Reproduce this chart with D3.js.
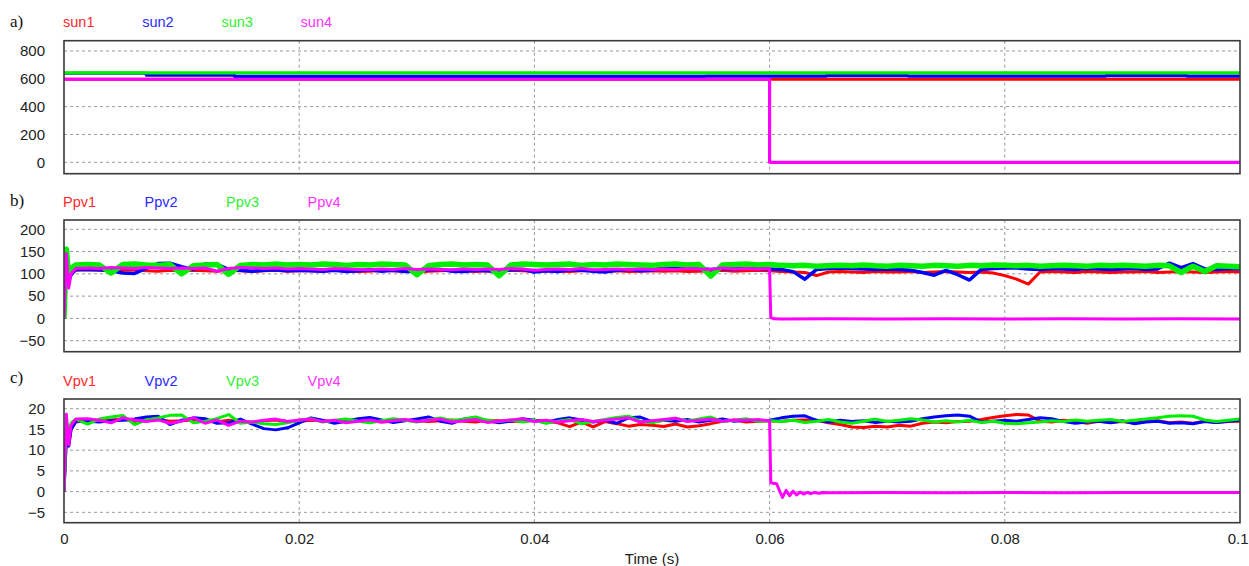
<!DOCTYPE html>
<html>
<head>
<meta charset="utf-8">
<script src="https://cdn.jsdelivr.net/npm/d3@7"></script>
<style>
  html, body { margin: 0; padding: 0; background: #fff; }
  svg { display: block; font-family: "Liberation Sans", Arial, sans-serif; }
</style>
</head>
<body>
<svg id="chart" width="1249" height="566"></svg>
<script>
// ---------------- DATA ----------------
const xTicks = [0, 0.02, 0.04, 0.06, 0.08, 0.1];
const xTickLabels = ["0", "0.02", "0.04", "0.06", "0.08", "0.1"];
const xTitle = "Time (s)";

const panelLabels = ["a)", "b)", "c)"];
const legendA = ["sun1", "sun2", "sun3", "sun4"];
const legendB = ["Ppv1", "Ppv2", "Ppv3", "Ppv4"];
const legendC = ["Vpv1", "Vpv2", "Vpv3", "Vpv4"];

const yTicksA = [0, 200, 400, 600, 800];
const yTicksB = [-50, 0, 50, 100, 150, 200];
const yTicksC = [-5, 0, 5, 10, 15, 20];

// Panel a: irradiance (step data)
const tSun = [0, 0.007, 0.0145, 0.0545, 0.06, 0.0648, 0.0718, 0.0886, 0.0955, 0.1];
const sun1 = [597, 597, 597, 597, 597, 597, 597, 597, 597, 597];
const sun2 = [640, 627, 618, 619, 619, 623, 620, 623, 619, 619];
const sun3 = [643, 643, 643, 643, 643, 643, 643, 643, 643, 643];
const sun4 = [597, 597, 597, 597, 0, 0, 0, 0, 0, 0];

// Shared sample times for panels b and c
const tMain = [0, 0.0002, 0.0004, 0.0006, 0.001,
  0.002, 0.003, 0.004, 0.005, 0.006, 0.007, 0.008, 0.009, 0.010,
  0.011, 0.012, 0.013, 0.014, 0.015, 0.016, 0.017, 0.018, 0.019, 0.020,
  0.021, 0.022, 0.023, 0.024, 0.025, 0.026, 0.027, 0.028, 0.029, 0.030,
  0.031, 0.032, 0.033, 0.034, 0.035, 0.036, 0.037, 0.038, 0.039, 0.040,
  0.041, 0.042, 0.043, 0.044, 0.045, 0.046, 0.047, 0.048, 0.049, 0.050,
  0.051, 0.052, 0.053, 0.054, 0.055, 0.056, 0.057, 0.058, 0.059, 0.060,
  0.061, 0.062, 0.063, 0.064, 0.065, 0.066, 0.067, 0.068, 0.069, 0.070,
  0.071, 0.072, 0.073, 0.074, 0.075, 0.076, 0.077, 0.078, 0.079, 0.080,
  0.081, 0.082, 0.083, 0.084, 0.085, 0.086, 0.087, 0.088, 0.089, 0.090,
  0.091, 0.092, 0.093, 0.094, 0.095, 0.096, 0.097, 0.098, 0.099, 0.100];

// Panel b: PV power
const ppv1 = [0, 135, 80, 100, 108,
  109, 108, 107, 108, 109, 107, 106, 108, 107,
  108, 107, 106, 108, 107, 105, 107, 108, 106, 107,
  107, 106, 108, 107, 105, 106, 108, 107, 106, 104,
  106, 107, 108, 107, 105, 107, 106, 108, 107, 105,
  107, 106, 105, 107, 108, 106, 107, 105, 106, 107,
  106, 107, 105, 106, 107, 108, 106, 107, 108, 107,
  105, 104, 103, 96, 104, 105, 104, 103, 105, 104,
  104, 105, 103, 104, 105, 104, 103, 104, 102, 96,
  88, 77, 104, 105, 104, 103, 105, 104, 103, 104,
  104, 105, 103, 104, 105, 104, 103, 104, 105, 104];
const ppv2 = [0, 130, 85, 98, 110,
  110, 109, 107, 102, 101, 112, 123, 124, 116,
  110, 122, 121, 110, 108, 106, 108, 109, 107, 108,
  107, 106, 108, 105, 107, 109, 106, 108, 105, 106,
  109, 110, 106, 105, 108, 107, 105, 109, 110, 104,
  107, 105, 109, 108, 106, 104, 108, 110, 107, 108,
  114, 113, 116, 112, 110, 112, 111, 113, 112, 111,
  110, 105, 88, 110, 112, 113, 112, 111, 110, 111,
  110, 108, 103, 97, 108, 98, 86, 110, 112, 113,
  113, 111, 110, 112, 111, 110, 112, 111, 110, 111,
  112, 110, 111, 124, 114, 123, 111, 110, 112, 111];
const ppv3 = [0, 155, 95, 112, 120,
  121, 120, 102, 121, 122, 120, 119, 121, 100,
  118, 120, 121, 99, 119, 121, 120, 122, 120, 121,
  120, 122, 121, 119, 121, 120, 122, 121, 120, 98,
  118, 121, 122, 120, 121, 120, 96, 120, 122, 121,
  120, 121, 122, 119, 121, 120, 122, 121, 120, 119,
  121, 122, 120, 121, 95, 120, 121, 122, 120, 121,
  119, 118, 119, 117, 118, 119, 118, 120, 118, 117,
  119, 118, 117, 119, 118, 117, 119, 118, 120, 119,
  118, 119, 117, 118, 119, 118, 117, 119, 118, 119,
  118, 117, 119, 118, 103, 117, 105, 118, 117, 116];
const ppv4Pre = [0, 145, 68, 100, 112,
  113, 112, 114, 113, 112, 114, 113, 112, 113,
  112, 113, 106, 112, 114, 113, 112, 113, 111, 112,
  111, 110, 112, 111, 110, 109, 111, 110, 112, 110,
  111, 110, 109, 111, 110, 111, 110, 112, 111, 108,
  110, 111, 110, 112, 109, 110, 111, 110, 111, 110,
  111, 110, 112, 111, 110, 113, 111, 112, 111, 112];
const tPpv4Post = [0.0601, 0.0604, 0.061, 0.065, 0.07, 0.075, 0.08, 0.085, 0.09, 0.095, 0.1];
const ppv4Post = [2, -1, -1.5, -1, -1.5, -1, -1.5, -1, -1.5, -1, -1.5];

// Panel c: PV voltage
const vpv1 = [0, 14, 11, 15, 16.8,
  17.2, 17.0, 17.3, 17.5, 16.9, 17.2, 17.4, 17.0, 17.1,
  17.3, 17.0, 16.8, 17.2, 17.0, 16.7, 17.1, 17.3, 16.9, 17.0,
  17.2, 17.1, 16.9, 17.0, 17.3, 17.1, 16.8, 17.0, 17.2, 17.1,
  16.9, 17.1, 17.3, 17.0, 16.8, 17.2, 17.1, 16.9, 17.0, 17.2,
  17.0, 16.6, 15.7, 16.8, 15.6, 16.9, 16.4, 15.8, 16.2, 16.0,
  15.7, 16.3, 15.6, 15.9, 16.4, 17.0, 17.3, 16.8, 17.0, 17.1,
  17.0, 17.2, 17.3, 17.2, 16.6, 16.2, 15.6, 15.5, 15.8, 15.6,
  16.0, 15.8, 16.5, 16.8, 16.6, 16.9, 17.0, 17.4, 17.9, 18.3,
  18.6, 18.5, 17.0, 16.8, 17.2, 16.9, 16.5, 17.0, 16.7, 16.9,
  16.5, 16.9, 17.1, 16.6, 16.8, 16.5, 17.0, 16.7, 16.9, 17.0];
const vpv2 = [0, 12.4, 11, 15, 17,
  17.0, 16.8, 17.1, 17.2, 17.5, 18.0, 18.2, 16.2, 17.2,
  17.8, 17.6, 16.5, 16.6, 17.5, 16.3, 15.2, 14.9, 15.4, 16.6,
  17.8, 17.2, 16.5, 17.0, 17.6, 17.9, 17.3, 16.7, 17.1, 17.5,
  18.0, 17.0, 16.5, 17.5, 17.8, 17.1, 16.6, 17.0, 17.6, 17.2,
  16.7, 17.4, 17.8, 17.3, 16.8, 17.2, 16.5, 17.8, 18.0, 16.9,
  17.2, 17.0, 17.4, 16.8, 17.2, 17.5, 17.0, 17.3, 17.1, 17.2,
  17.8, 18.2, 18.3, 17.2, 16.8, 17.2, 16.9, 17.1, 16.7, 17.0,
  16.8, 17.0, 17.6, 18.0, 18.3, 18.5, 18.2, 16.8, 17.0, 17.2,
  17.0, 17.4, 17.8, 17.6, 16.9, 16.5, 16.8, 17.0, 16.6, 17.1,
  16.4, 16.8, 17.0, 16.5, 16.6, 16.4, 16.9, 16.7, 17.0, 17.2];
const vpv3 = [0, 17, 14, 16.5, 17.5,
  16.3, 17.5, 18.0, 18.4, 16.2, 17.3, 17.8, 18.4, 18.5,
  16.6, 17.0, 17.6, 18.6, 16.5, 16.8, 16.4, 16.2, 16.6, 17.2,
  17.6, 16.8, 17.2, 17.5, 17.0, 16.6, 17.1, 17.6, 17.2, 16.8,
  17.3, 17.8, 17.1, 17.5, 18.0, 17.2, 16.9, 17.3, 16.8, 17.2,
  16.5, 17.0, 17.4, 16.4, 16.9, 17.4, 17.9, 18.2, 17.0, 16.6,
  17.2, 17.7, 17.0, 17.5, 18.0, 16.9, 17.2, 17.6, 17.0, 17.1,
  16.9, 17.2, 16.7, 17.0, 17.4, 16.8, 16.5, 17.0, 17.5, 16.9,
  17.2, 17.6, 17.3, 16.8, 17.1, 16.8, 17.2, 16.7, 17.0, 16.5,
  16.4, 16.6, 16.8, 17.1, 16.9, 17.3, 17.0, 17.2, 17.4, 16.9,
  17.2, 17.5, 17.8, 18.2, 18.3, 18.2, 17.3, 16.9, 17.2, 17.5];
const vpv4Pre = [0, 18.7, 11.3, 16, 17.5,
  17.6, 17.2, 16.6, 17.8, 17.3, 16.9, 17.3, 16.5, 17.0,
  17.8, 16.5, 17.3, 16.0, 17.0, 16.8, 17.2, 17.5, 16.9, 17.3,
  17.5, 16.9, 17.2, 16.6, 17.0, 17.3, 16.8, 17.1, 17.4, 16.9,
  17.2, 17.5, 16.8, 17.1, 17.4, 16.7, 17.0, 17.3, 17.6, 16.9,
  17.2, 16.8, 17.1, 17.4, 16.9, 17.2, 17.5, 17.8, 16.8, 17.1,
  17.4, 17.7, 16.9, 17.2, 17.5, 17.0, 17.3, 17.2, 17.4, 17.1];
const tVpv4Post = [0.0601, 0.0603, 0.0606, 0.0608, 0.0611, 0.0614, 0.0617, 0.062, 0.0623, 0.0626,
  0.0629, 0.0632, 0.0635, 0.0638, 0.0642, 0.0646, 0.065, 0.07, 0.075, 0.08, 0.085, 0.09, 0.1];
const vpv4Post = [2.2, 2.0, 1.9, 0.5, -1.4, 0.3, -1.0, 0.1, -0.8, -0.1,
  -0.6, -0.2, -0.5, -0.2, -0.4, -0.2, -0.3, -0.2, -0.3, -0.2, -0.3, -0.2, -0.2];

// ---------------- STYLE / LAYOUT ----------------
const lineColors = ["#ff0000", "#0000ff", "#00ee00", "#ff00ff"];
const legendColors = ["#ff2a2a", "#2a2aff", "#33ee33", "#ff33ff"];
const SANS = "'Liberation Sans', Arial, sans-serif";
const SERIF = "'Liberation Serif', 'Times New Roman', serif";

const zip = (ts, vs) => ts.map((t, i) => [t, vs[i]]);

const panels = [
  { label: panelLabels[0], legend: legendA, legendStep: 79.2, top: 40.7, bottom: 173.7, domain: [-82, 874], ticks: yTicksA,
    series: [zip(tSun, sun1), zip(tSun, sun2), zip(tSun, sun3), zip(tSun, sun4)],
    widths: [3.2, 3.2, 3.2, 3.2], step: true, labelY: 27, legendY: 27 },
  { label: panelLabels[1], legend: legendB, legendStep: 81.5, top: 220, bottom: 351.7, domain: [-74.7, 220.8], ticks: yTicksB,
    series: [zip(tMain, ppv1), zip(tMain, ppv2), zip(tMain, ppv3),
             zip(tMain.slice(0, ppv4Pre.length), ppv4Pre).concat(zip(tPpv4Post, ppv4Post))],
    widths: [3, 3.5, 5.5, 3], step: false, labelY: 206, legendY: 207 },
  { label: panelLabels[2], legend: legendC, legendStep: 81.5, top: 399, bottom: 522.7, domain: [-7.5, 22.35], ticks: yTicksC,
    series: [zip(tMain, vpv1), zip(tMain, vpv2), zip(tMain, vpv3),
             zip(tMain.slice(0, vpv4Pre.length), vpv4Pre).concat(zip(tVpv4Post, vpv4Post))],
    widths: [3, 3, 3, 3], step: false, labelY: 383, legendY: 386 }
];

const svg = d3.select("#chart");
const x = d3.scaleLinear().domain([0, 0.1]).range([64, 1240]);
const gridTimes = xTicks.filter(t => t > 0 && t < 0.1);

panels.forEach((p, pi) => {
  const y = d3.scaleLinear().domain(p.domain).range([p.bottom, p.top]);
  const g = svg.append("g");
  const clipId = "clip" + pi;
  svg.append("clipPath").attr("id", clipId)
    .append("rect").attr("x", 64).attr("y", p.top).attr("width", 1240 - 64).attr("height", p.bottom - p.top);

  // horizontal grid
  g.selectAll(".hg").data(p.ticks).enter().append("line")
    .attr("x1", 64).attr("x2", 1240)
    .attr("y1", d => y(d)).attr("y2", d => y(d))
    .attr("stroke", "#9a9a9a").attr("stroke-width", 1).attr("stroke-dasharray", "3,3");
  // vertical grid
  g.selectAll(".vg").data(gridTimes).enter().append("line")
    .attr("x1", d => x(d)).attr("x2", d => x(d))
    .attr("y1", p.top).attr("y2", p.bottom)
    .attr("stroke", "#9a9a9a").attr("stroke-width", 1).attr("stroke-dasharray", "3,3");

  // y axis labels
  const yAxis = d3.axisLeft(y).tickValues(p.ticks).tickSize(0).tickPadding(0).tickFormat(d3.format("d"));
  const ya = g.append("g").attr("transform", "translate(45,0)").call(yAxis);
  ya.select(".domain").remove();
  ya.attr("font-family", null).attr("font-size", null);
  ya.selectAll("text").style("font-size", "15px").style("fill", "#222").style("font-family", SANS);

  // series
  const line = d3.line().x(d => x(d[0])).y(d => y(d[1]))
    .curve(p.step ? d3.curveStepAfter : d3.curveLinear);
  const lg = g.append("g").attr("clip-path", `url(#${clipId})`);
  p.series.forEach((s, i) => {
    lg.append("path").datum(s).attr("d", line)
      .attr("fill", "none").attr("stroke", lineColors[i])
      .attr("stroke-width", p.widths[i]).attr("stroke-linejoin", "round");
  });

  // frame
  g.append("rect").attr("x", 64).attr("y", p.top).attr("width", 1240 - 64).attr("height", p.bottom - p.top)
    .attr("fill", "none").attr("stroke", "#3a3a3a").attr("stroke-width", 1.6);

  // panel label (serif)
  g.append("text").attr("x", 10).attr("y", p.labelY).text(p.label)
    .style("font-family", SERIF).style("font-size", "17px").style("fill", "#111");

  // legend
  p.legend.forEach((name, i) => {
    g.append("text").attr("x", 63 + i * p.legendStep).attr("y", p.legendY).text(name)
      .style("font-family", SANS).style("font-size", "14.5px").style("fill", legendColors[i]);
  });

  // x axis on bottom panel
  if (pi === panels.length - 1) {
    const xAxis = d3.axisBottom(x).tickValues(xTicks).tickSize(0).tickPadding(0)
      .tickFormat((d, i) => xTickLabels[i]);
    const xa = g.append("g").attr("transform", `translate(0,${p.bottom + 11})`).call(xAxis);
    xa.select(".domain").remove();
    xa.attr("font-family", null).attr("font-size", null);
    xa.selectAll("text").style("font-size", "15px").style("fill", "#222").style("font-family", SANS);
    // keep the last label inside the picture
    xa.selectAll("text").filter(d => d === 0.1).attr("text-anchor", "end").attr("x", 8);
    g.append("text").attr("x", 652).attr("y", 564).attr("text-anchor", "middle")
      .style("font-family", SANS).style("font-size", "15px").style("fill", "#222").text(xTitle);
  }
});
</script>
</body>
</html>
